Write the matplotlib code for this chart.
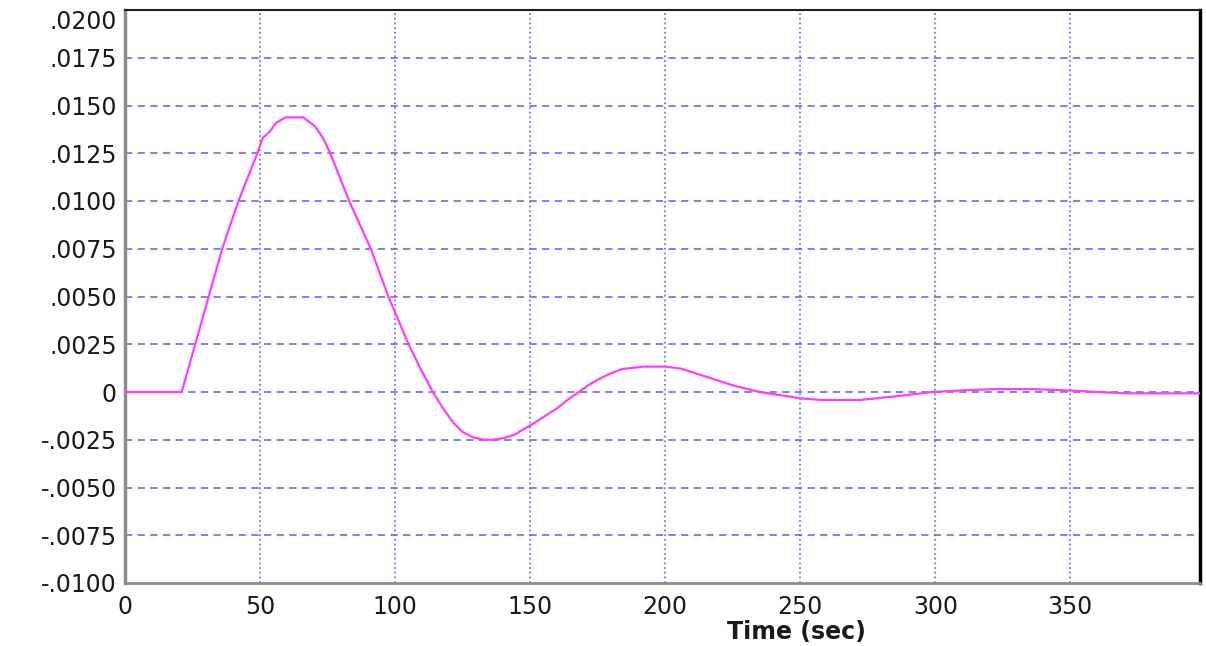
import matplotlib
matplotlib.use("Agg")
import matplotlib.pyplot as plt

# response curve (time in sec)
time_sec = [0, 21, 26, 31, 36, 42, 49, 51, 53.7, 56, 59.5, 66, 70.4, 73.3, 76, 83, 91,
            97.5, 105, 109.5, 114, 117.5, 121.5, 125, 129, 133, 136, 140, 144, 151, 160,
            164, 168, 172, 176, 180, 184, 192, 200, 206, 213, 225, 235, 250, 258, 272,
            287, 299, 312, 322, 336, 351, 360, 371, 398]
response = [0, 0, .0025, .005, .0075, .01, .0125, .0133, .01365, .0141, .01438, .01438,
            .0139, .0133, .0125, .01, .0075, .005, .0025, .0012, 0, -.0008, -.0016,
            -.0021, -.00238, -.0025, -.0025, -.00242, -.00225, -.00167, -.00085,
            -.0004, 0, .0004, .00072, .00098, .0012, .00133, .00133, .00122, .0009,
            .00035, 0, -.00033, -.00042, -.00042, -.0002, 0, .0001, .00015, .00015,
            .00007, 0, -.00007, -.00007]

x_ticks = [0, 50, 100, 150, 200, 250, 300, 350]
y_ticks = [-.01, -.0075, -.005, -.0025, 0, .0025, .005, .0075, .01, .0125, .015, .0175, .02]
y_labels = ["-.0100", "-.0075", "-.0050", "-.0025", "0", ".0025", ".0050", ".0075",
            ".0100", ".0125", ".0150", ".0175", ".0200"]

plt.rcParams["font.family"] = ["DejaVu Sans"]

fig = plt.figure(figsize=(12.06, 6.46), dpi=100)
ax = fig.add_axes([125 / 1206, 1 - 583 / 646, 1075 / 1206, 573 / 646])

grid_col = "#5a5aff"
for xv in x_ticks[1:]:
    ax.axvline(xv, color=grid_col, lw=1.3, ls=(0, (1, 1.6)), alpha=0.85, zorder=1)
for yv in y_ticks[1:-1]:
    ax.axhline(yv, color=grid_col, lw=1.3, ls=(0, (4, 3)), alpha=0.85, zorder=1)

ax.plot(time_sec, response, color="#ff3cff", lw=1.6, zorder=3)

ax.set_xlim(0, 398)
ax.set_ylim(-0.01, 0.02)
ax.set_xticks(x_ticks)
ax.set_xticklabels([str(v) for v in x_ticks])
ax.set_yticks(y_ticks)
ax.set_yticklabels(y_labels)
ax.tick_params(length=0, labelsize=17, colors="#1a1a1a")
ax.tick_params(axis="x", pad=9)
ax.tick_params(axis="y", pad=6)
ax.get_yticklabels()[-1].set_va("top")

ax.set_xlabel("Time (sec)", fontsize=17, fontweight="bold", color="#1a1a1a")
ax.xaxis.set_label_coords(0.625, -0.065)

ax.spines["left"].set_color("#8c8c8c")
ax.spines["left"].set_linewidth(2.5)
ax.spines["bottom"].set_color("#8c8c8c")
ax.spines["bottom"].set_linewidth(2)
ax.spines["top"].set_color("#202020")
ax.spines["top"].set_linewidth(1.5)
ax.spines["right"].set_color("#000000")
ax.spines["right"].set_linewidth(2.5)

fig.savefig("out.png", dpi=100)
